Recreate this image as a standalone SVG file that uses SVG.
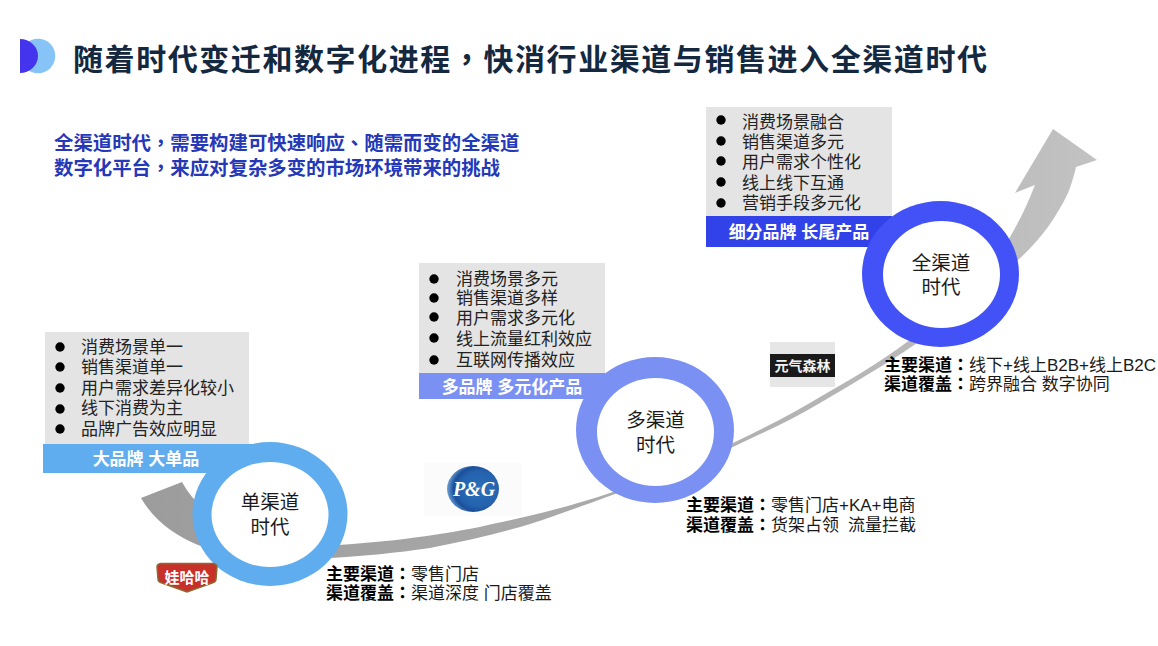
<svg xmlns="http://www.w3.org/2000/svg" width="1158" height="646" viewBox="0 0 1158 646">
<style>
text{font-family:"Liberation Sans","Noto Sans CJK SC",sans-serif;fill:#1a1a1a}
.cjk{font-family:"Noto Sans CJK SC",sans-serif}
.p{font-family:"Noto Sans CJK TC",sans-serif}
.li{font-size:17px;fill:#222}
.band{font-size:17px;font-weight:700;fill:#fff;text-anchor:middle}
.c{font-size:19.500px;text-anchor:middle;fill:#1a1a1a}
.cap{font-size:17px;fill:#1a1a1a}
.cap .b{font-weight:700;fill:#000}
.box{fill:#e4e4e4}
.hole{fill:#fff}
</style>
<defs>
<linearGradient id="arrowFill" x1="140" x2="1100" y1="0" y2="0" gradientUnits="userSpaceOnUse">
<stop offset="0" stop-color="#9c9c9c"/><stop offset="0.5" stop-color="#ababab"/><stop offset="1" stop-color="#c2c2c2"/>
</linearGradient>
<radialGradient id="pg" cx="0.62" cy="0.5" r="0.62"><stop offset="0" stop-color="#2b6fb9"/><stop offset="0.62" stop-color="#2462ae"/><stop offset="0.8" stop-color="#1a4f9a"/><stop offset="1" stop-color="#6f9fd4"/></radialGradient>
</defs>
<rect width="1158" height="646" fill="#fff"/>
<g id="title">
<circle cx="38" cy="56" r="17.300" fill="#86c3f7"/>
<path d="M20 39A18 17 0 0 1 20 73Z" fill="#4534ee"/>
<text x="73" y="70" class="cjk" font-size="30" font-weight="700" style="fill:#14293f" letter-spacing="1.570">随着时代变迁和数字化进程<tspan class="p">，</tspan>快消行业渠道与销售进入全渠道时代</text>
</g>
<g id="intro">
<text x="54" y="150" class="cjk" font-size="19.400" font-weight="700" style="fill:#2438b8">全渠道时代<tspan class="p">，</tspan>需要构建可快速响应<tspan class="p">、</tspan>随需而变的全渠道</text>
<text x="54" y="175" class="cjk" font-size="19.400" font-weight="700" style="fill:#2438b8">数字化平台<tspan class="p">，</tspan>来应对复杂多变的市场环境带来的挑战</text>
</g>
<g id="connectors">
<path d="M141 498L182 482C205 525 262 546 338 545C400 541 455 533 497 523C535 515 575 505 613 492C660 475 700 460 735 442C765 428 795 412 820 397C850 380 880 362 907 342C950 310 985 280 1010 237C1020 220 1028 203 1035 185L1015 193L1053 129L1097 160L1076 167C1073 180 1070 188 1068 193C1055 220 1040 240 1018 260C985 292 950 320 917 343C885 365 850 385 820 403C795 418 765 432 735 446C695 465 655 480 615 494C585 505 555 516 530 524C500 533 465 541 430 548C395 553 365 556 330 558C265 558 225 555 198 545C175 535 155 522 141 498Z" fill="url(#arrowFill)"/>
</g>
<g id="node-single">
<rect class="box" x="45" y="332" width="204" height="112"/>
<rect x="43" y="444" width="209" height="29" fill="#5fadee"/>
<circle cx="60" cy="347" r="4.700"/><circle cx="60" cy="367" r="4.700"/><circle cx="60" cy="388" r="4.700"/><circle cx="60" cy="409" r="4.700"/><circle cx="60" cy="429" r="4.700"/>
<text class="li" x="81" y="353">消费场景单一</text>
<text class="li" x="81" y="373">销售渠道单一</text>
<text class="li" x="81" y="394">用户需求差异化较小</text>
<text class="li" x="81" y="414">线下消费为主</text>
<text class="li" x="81" y="435">品牌广告效应明显</text>
<text class="band" x="146" y="465">大品牌 大单品</text>
<ellipse cx="270" cy="514" rx="77.500" ry="72" fill="#5fadee"/>
<ellipse class="hole" cx="270" cy="514.500" rx="58.500" ry="52.500"/>
<text class="c" x="270" y="509">单渠道</text>
<text class="c" x="270" y="534">时代</text>
<text class="cap" x="326" y="580"><tspan class="b">主要渠道<tspan class="p">：</tspan></tspan>零售门店</text>
<text class="cap" x="326" y="599"><tspan class="b">渠道覆盖<tspan class="p">：</tspan></tspan>渠道深度 门店覆盖</text>
</g>
<g id="logo-wahaha">
<path d="M157 567Q157 564 161 563.500H213Q217 564 217 567L216 579Q216 582 212 583L187 592L162 583Q158 582 158 579Z" fill="#c8302a" stroke="#8a6a30" stroke-width="1.500"/>
<text x="187" y="583" text-anchor="middle" class="cjk" font-size="15" font-weight="700" style="fill:#fff">娃哈哈</text>
</g>
<g id="logo-pg">
<rect x="424" y="463" width="98" height="53" fill="#fbfbfb"/>
<ellipse cx="473" cy="489" rx="26" ry="23" fill="url(#pg)"/>
<text x="474" y="496" text-anchor="middle" font-size="20" font-weight="700" font-style="italic" style="font-family:'Liberation Serif',serif;fill:#fff">P&amp;G</text>
</g>
<g id="node-multi">
<rect class="box" x="419" y="263" width="186" height="110"/>
<rect x="419" y="373" width="186" height="26" fill="#7a91f3"/>
<circle cx="434" cy="279" r="4.700"/><circle cx="434" cy="298" r="4.700"/><circle cx="434" cy="317" r="4.700"/><circle cx="434" cy="338" r="4.700"/><circle cx="434" cy="360" r="4.700"/>
<text class="li" x="456" y="285">消费场景多元</text>
<text class="li" x="456" y="304">销售渠道多样</text>
<text class="li" x="456" y="324">用户需求多元化</text>
<text class="li" x="456" y="345">线上流量红利效应</text>
<text class="li" x="456" y="366">互联网传播效应</text>
<text class="band" x="512" y="393">多品牌 多元化产品</text>
<ellipse cx="655" cy="430" rx="79" ry="73" fill="#7a91f3"/>
<ellipse class="hole" cx="655.500" cy="432" rx="58.500" ry="54"/>
<text class="c" x="655.500" y="427">多渠道</text>
<text class="c" x="655.500" y="452">时代</text>
<text class="cap" x="686" y="511"><tspan class="b">主要渠道<tspan class="p">：</tspan></tspan>零售门店+KA+电商</text>
<text class="cap" x="686" y="531"><tspan class="b">渠道覆盖<tspan class="p">：</tspan></tspan>货架占领<tspan dx="9">流量拦截</tspan></text>
</g>
<g id="logo-yuanqi">
<rect x="770" y="342" width="65" height="45" fill="#e6e6e6"/>
<rect x="770" y="354" width="65" height="23" fill="#1a1a1a"/>
<text x="802.500" y="371" text-anchor="middle" class="cjk" font-size="14" font-weight="700" style="fill:#f2f2f2">元气森林</text>
</g>
<g id="node-omni">
<rect class="box" x="706" y="107" width="186" height="109"/>
<rect x="706" y="216" width="186" height="31" fill="#3042e8"/>
<circle cx="721" cy="120" r="4.700"/><circle cx="721" cy="141" r="4.700"/><circle cx="721" cy="161" r="4.700"/><circle cx="721" cy="182" r="4.700"/><circle cx="721" cy="203" r="4.700"/>
<text class="li" x="742" y="128">消费场景融合</text>
<text class="li" x="742" y="148">销售渠道多元</text>
<text class="li" x="742" y="168">用户需求个性化</text>
<text class="li" x="742" y="189">线上线下互通</text>
<text class="li" x="742" y="209">营销手段多元化</text>
<text class="band" x="799" y="238">细分品牌 长尾产品</text>
<ellipse cx="940.500" cy="274" rx="78.500" ry="73" fill="#4352f7"/>
<ellipse class="hole" cx="941.500" cy="274.500" rx="58.500" ry="53.500"/>
<text class="c" x="941" y="270">全渠道</text>
<text class="c" x="941" y="294">时代</text>
<text class="cap" x="884" y="371"><tspan class="b">主要渠道<tspan class="p">：</tspan></tspan>线下+线上B2B+线上B2C</text>
<text class="cap" x="884" y="390"><tspan class="b">渠道覆盖<tspan class="p">：</tspan></tspan>跨界融合 数字协同</text>
</g>
</svg>
